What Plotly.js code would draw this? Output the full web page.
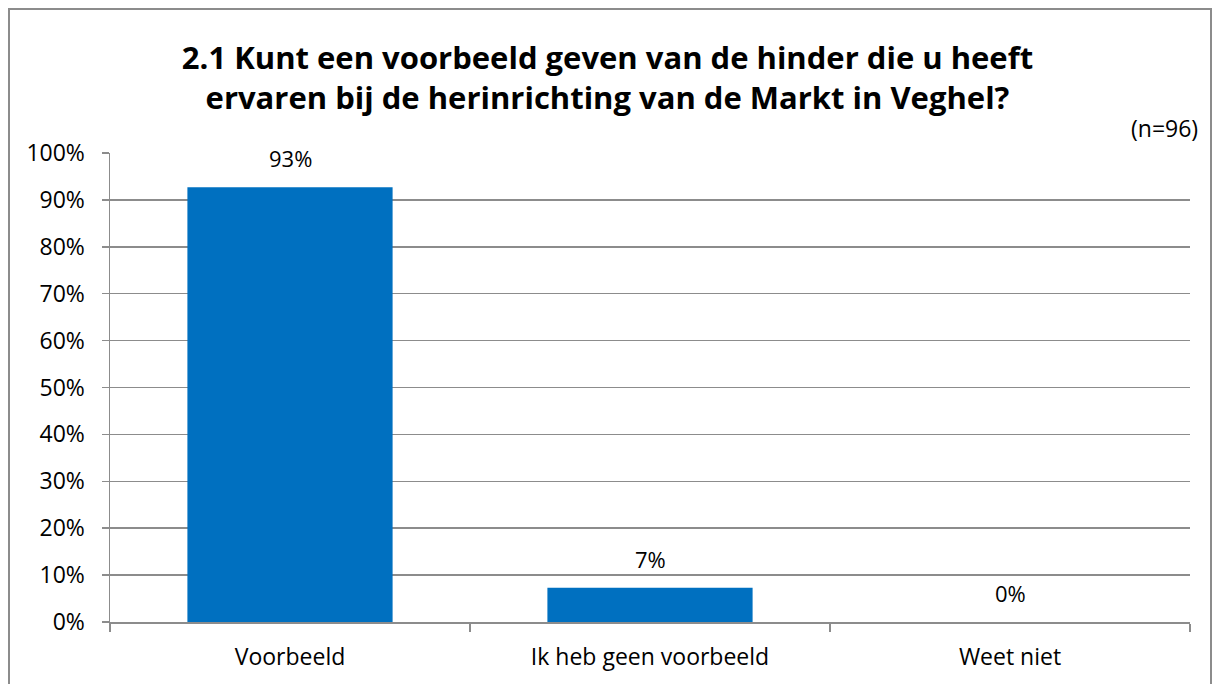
<!DOCTYPE html>
<html><head><meta charset="utf-8">
<script src="https://cdn.plot.ly/plotly-3.0.1.min.js"></script>
<style>
html,body{margin:0;padding:0;background:#fff;}
#chart{width:1215px;height:684px;position:absolute;left:0;top:0;}
#frame{position:absolute;left:8px;top:8px;width:1200px;height:700px;border:2px solid #8c8c8c;pointer-events:none;}
</style></head>
<body>
<div id="chart"></div>
<div id="frame"></div>
<script>
const categories = ["Voorbeeld", "Ik heb geen voorbeeld", "Weet niet"];
const values = [92.7, 7.3, 0];
const labels = ["93%", "7%", "0%"];
const yTickVals = [0,10,20,30,40,50,60,70,80,90,100];
const yTickText = ["0%","10%","20%","30%","40%","50%","60%","70%","80%","90%","100%"];
const titleText = "2.1 Kunt een voorbeeld geven van de hinder die u heeft<br>ervaren bij de herinrichting van de Markt in Veghel?";
const noteText = "(n=96)";

const FONT = "'Open Sans', 'Noto Sans', sans-serif";
const trace = {
  type: "bar", x: categories, y: values,
  marker: {color: "#0070C0"},
  hoverinfo: "none"
};
const annotations = categories.map((c, i) => ({
  x: c, y: values[i], xref: "x", yref: "y", text: labels[i],
  showarrow: false, yanchor: "bottom", yshift: 12,
  font: {family: FONT, size: 22, color: "#000"}
}));
const L = 110, R = 25, T = 153, B = 62, W = 1215, H = 684;
const pw = W - L - R, ph = H - T - B;
annotations.push({
  x: (1200 - L) / pw, y: (H - B - 128) / ph, xref: "paper", yref: "paper", text: noteText,
  showarrow: false, xanchor: "right", yanchor: "middle",
  font: {family: FONT, size: 23, color: "#000"}
});

const layout = {
  width: W, height: H,
  margin: {l: L, r: R, t: T, b: B, pad: 0},
  paper_bgcolor: "#fff", plot_bgcolor: "#fff",
  title: {text: titleText, x: 0.5, xref: "container", xanchor: "center",
          y: 1 - 69/H, yref: "container", yanchor: "middle",
          font: {family: FONT, size: 31, color: "#000", weight: "bold"}},
  bargap: 0.43,
  showlegend: false,
  xaxis: {
    type: "category", tickson: "boundaries", ticks: "outside", ticklen: 8,
    tickcolor: "#8c8c8c", tickwidth: 1.5,
    showline: true, linecolor: "#8c8c8c", linewidth: 1.5,
    showgrid: false, zeroline: false,
    tickfont: {family: FONT, size: 23, color: "#000"}, ticklabelstandoff: 14,
    fixedrange: true
  },
  yaxis: {
    range: [0, 100], tickvals: yTickVals, ticktext: yTickText,
    ticks: "outside", ticklen: 7, tickcolor: "#8c8c8c", tickwidth: 1.5,
    showline: true, linecolor: "#8c8c8c", linewidth: 1.5,
    showgrid: true, gridcolor: "#8c8c8c", gridwidth: 1.5,
    zeroline: false,
    tickfont: {family: FONT, size: 23, color: "#000"}, ticklabelstandoff: 12,
    fixedrange: true
  },
  annotations: annotations
};
Plotly.newPlot("chart", [trace], layout, {displayModeBar: false, staticPlot: true});
</script>
</body></html>
